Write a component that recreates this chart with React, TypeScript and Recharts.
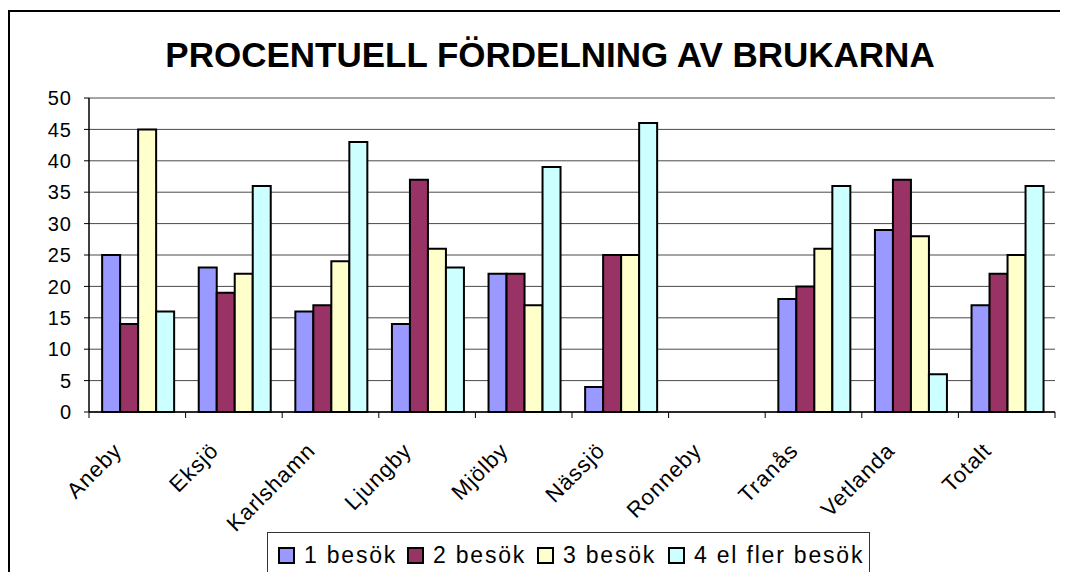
import React from 'react';
import { BarChart, Bar, XAxis, YAxis, CartesianGrid } from 'recharts';

const categories = ['Aneby', 'Eksjö', 'Karlshamn', 'Ljungby', 'Mjölby', 'Nässjö', 'Ronneby', 'Tranås', 'Vetlanda', 'Totalt'];
const besok1 = [25, 23, 16, 14, 22, 4, 0, 18, 29, 17];
const besok2 = [14, 19, 17, 37, 22, 25, 0, 20, 37, 22];
const besok3 = [45, 22, 24, 26, 17, 25, 0, 26, 28, 25];
const besok4 = [16, 36, 43, 23, 39, 46, 0, 36, 6, 36];
const seriesNames = ['1 besök', '2 besök', '3 besök', '4 el fler besök'];
const seriesKeys = ['b1', 'b2', 'b3', 'b4'];
const seriesColors = ['#9999FF', '#993366', '#FFFFCC', '#CCFFFF'];
const yTicks = [0, 5, 10, 15, 20, 25, 30, 35, 40, 45, 50];
const title = 'PROCENTUELL FÖRDELNING AV BRUKARNA';

const data = categories.map((c, i) => ({
  name: c,
  b1: besok1[i],
  b2: besok2[i],
  b3: besok3[i],
  b4: besok4[i],
}));

const FONT = '"Liberation Sans", Arial, sans-serif';

const XTick = (props: any) => {
  const { x, y, payload, index, visibleTicksCount } = props;
  const w = typeof props.width === 'number' ? props.width : 966;
  const band = w / visibleTicksCount;
  const left = x - band / 2;
  const ax = x - 14;
  const ay = y + 40;
  return (
    <g>
      <line x1={left} y1={y} x2={left} y2={y + 6} stroke="#000" strokeWidth={1} />
      {index === visibleTicksCount - 1 && (
        <line x1={x + band / 2} y1={y} x2={x + band / 2} y2={y + 6} stroke="#000" strokeWidth={1} />
      )}
      <text
        x={ax}
        y={ay}
        textAnchor="end"
        transform={`rotate(-45 ${ax} ${ay})`}
        fontSize={22}
        fontFamily={FONT}
        fill="#000"
        letterSpacing={1}
      >
        {payload.value}
      </text>
    </g>
  );
};

const legendX = [271, 400, 530, 661];

export default function App() {
  return (
    <div style={{ position: 'relative', width: 1052, height: 564, fontFamily: FONT, overflow: 'hidden' }}>
      <style>{'html,body{overflow:hidden;}'}</style>
      <BarChart
        width={1052}
        height={572}
        data={data}
        margin={{ top: 90, right: 5, left: 0, bottom: 48 }}
        barCategoryGap="13.6%"
        barGap={0}
      >
        <CartesianGrid horizontal={true} vertical={false} stroke="#4a4a4a" strokeWidth={1} />
        <XAxis
          dataKey="name"
          height={120}
          interval={0}
          tickSize={0}
          tickMargin={0}
          tickLine={false}
          axisLine={{ stroke: '#000', strokeWidth: 1.5 }}
          tick={<XTick />}
        />
        <YAxis
          width={81}
          domain={[0, 50]}
          ticks={yTicks}
          interval={0}
          tickSize={5}
          tickMargin={12}
          axisLine={{ stroke: '#000', strokeWidth: 1.5 }}
          tickLine={{ stroke: '#000' }}
          tick={{ fill: '#000', fontSize: 20, fontFamily: FONT, letterSpacing: 1 }}
        />
        <YAxis
          yAxisId="right"
          orientation="right"
          width={0}
          domain={[0, 50]}
          tick={false}
          tickLine={false}
          axisLine={{ stroke: '#8a8a8a', strokeWidth: 1.5 }}
        />
        {seriesKeys.map((k, i) => (
          <Bar
            key={k}
            dataKey={k}
            name={seriesNames[i]}
            fill={seriesColors[i]}
            stroke="#000"
            strokeWidth={2}
            isAnimationActive={false}
          />
        ))}
      </BarChart>
      <svg
        width={1052}
        height={564}
        style={{ position: 'absolute', left: 0, top: 0, pointerEvents: 'none' }}
      >
        <line x1={1} y1={3} x2={1052} y2={3} stroke="#000" strokeWidth={2} />
        <line x1={1} y1={2} x2={1} y2={564} stroke="#000" strokeWidth={2} />
        <text
          x={542}
          y={59}
          textAnchor="middle"
          fontSize={35}
          fontWeight="bold"
          fontFamily={FONT}
          fill="#000"
        >
          {title}
        </text>
        <rect x={259.5} y={524.5} width={602} height={80} fill="#fff" stroke="#333" strokeWidth={1} />
        {seriesNames.map((n, i) => (
          <g key={n}>
            <rect
              x={legendX[i]}
              y={540}
              width={15}
              height={15}
              fill={seriesColors[i]}
              stroke="#000"
              strokeWidth={2}
            />
            <text
              x={legendX[i] + 25}
              y={555}
              fontSize={23}
              fontFamily={FONT}
              fill="#000"
              letterSpacing={1.8}
            >
              {n}
            </text>
          </g>
        ))}
      </svg>
    </div>
  );
}
